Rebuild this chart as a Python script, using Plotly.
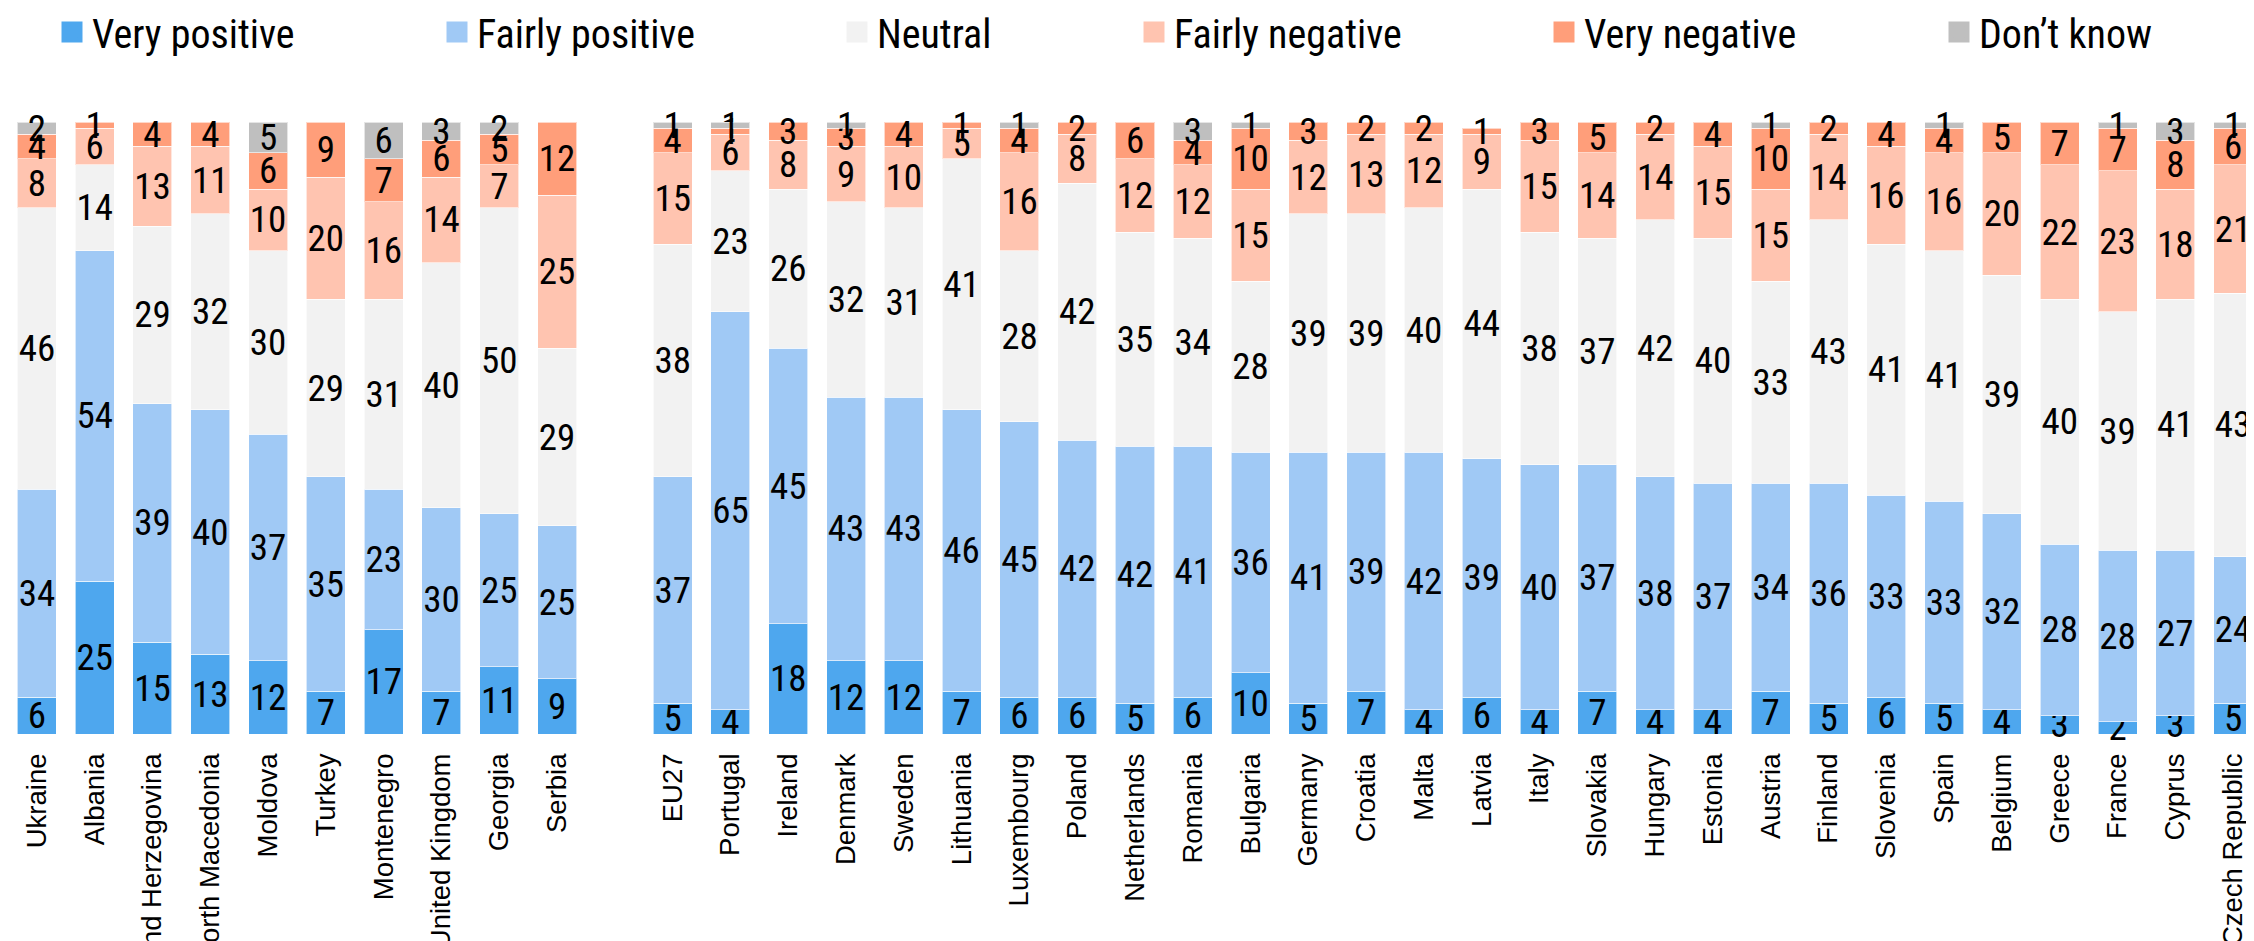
import plotly.graph_objects as go

left_countries = ["Ukraine", "Albania", "Bosnia and Herzegovina", "North Macedonia", "Moldova",
                  "Turkey", "Montenegro", "United Kingdom", "Georgia", "Serbia"]
right_countries = ["EU27", "Portugal", "Ireland", "Denmark", "Sweden", "Lithuania", "Luxembourg",
                   "Poland", "Netherlands", "Romania", "Bulgaria", "Germany", "Croatia", "Malta",
                   "Latvia", "Italy", "Slovakia", "Hungary", "Estonia", "Austria", "Finland",
                   "Slovenia", "Spain", "Belgium", "Greece", "France", "Cyprus", "Czech Republic"]

very_pos_l = [6, 25, 15, 13, 12, 7, 17, 7, 11, 9]
very_pos_r = [5, 4, 18, 12, 12, 7, 6, 6, 5, 6, 10, 5, 7, 4, 6, 4, 7, 4, 4, 7, 5, 6, 5, 4, 3, 2, 3, 5]
fairly_pos_l = [34, 54, 39, 40, 37, 35, 23, 30, 25, 25]
fairly_pos_r = [37, 65, 45, 43, 43, 46, 45, 42, 42, 41, 36, 41, 39, 42, 39, 40, 37, 38, 37, 34, 36,
                33, 33, 32, 28, 28, 27, 24]
neutral_l = [46, 14, 29, 32, 30, 29, 31, 40, 50, 29]
neutral_r = [38, 23, 26, 32, 31, 41, 28, 42, 35, 34, 28, 39, 39, 40, 44, 38, 37, 42, 40, 33, 43,
             41, 41, 39, 40, 39, 41, 43]
fairly_neg_l = [8, 6, 13, 11, 10, 20, 16, 14, 7, 25]
fairly_neg_r = [15, 6, 8, 9, 10, 5, 16, 8, 12, 12, 15, 12, 13, 12, 9, 15, 14, 14, 15, 15, 14, 16,
                16, 20, 22, 23, 18, 21]
very_neg_l = [4, 1, 4, 4, 6, 9, 7, 6, 5, 12]
very_neg_r = [4, 1, 3, 3, 4, 1, 4, 2, 6, 4, 10, 3, 2, 2, 1, 3, 5, 2, 4, 10, 2, 4, 4, 5, 7, 7, 8, 6]
dont_know_l = [2, None, None, None, 5, None, 6, 3, 2, None]
dont_know_r = [1, 1, None, 1, None, None, 1, None, None, 3, 1, None, None, None, None, None, None,
               None, None, 1, None, None, 1, None, None, 1, 3, 1]

series_names = ["Very positive", "Fairly positive", "Neutral", "Fairly negative", "Very negative",
                "Don\u2019t know"]
series_colors = ["#4EA7EE", "#A0C9F5", "#F2F2F2", "#FFC4B0", "#FF9E7A", "#BFBFBF"]

GAP = " "
categories = left_countries + [GAP] + right_countries
series_values = [
    very_pos_l + [None] + very_pos_r,
    fairly_pos_l + [None] + fairly_pos_r,
    neutral_l + [None] + neutral_r,
    fairly_neg_l + [None] + fairly_neg_r,
    very_neg_l + [None] + very_neg_r,
    dont_know_l + [None] + dont_know_r,
]

W, H = 2254, 941
TOP, BOTTOM = 114, 215
LABEL_FONT = "Roboto Condensed, Roboto Narrow, DejaVu Sans Condensed, Roboto, sans-serif"

fig = go.Figure()
for name, color, vals in zip(series_names, series_colors, series_values):
    fig.add_trace(go.Bar(
        x=categories, y=vals, name=name,
        marker=dict(color=color, line=dict(color="rgba(255,255,255,0.6)", width=1)),
        text=[("" if v is None else str(v)) for v in vals],
        textposition="inside", insidetextanchor="middle", textangle=0,
        textfont=dict(family=LABEL_FONT, size=37, color="#000000"),
        cliponaxis=False,
        showlegend=False, hoverinfo="x+y+name",
    ))

# legend entries (one legend per item so each can sit where the original places it)
legend_square_centers = [64, 449, 849, 1146, 1556, 1951]
for i, (name, color) in enumerate(zip(series_names, series_colors)):
    key = "legend" if i == 0 else f"legend{i + 1}"
    fig.add_trace(go.Scatter(
        x=[None], y=[None], mode="markers", name=name,
        marker=dict(symbol="square", size=16, color=color, line=dict(color=color, width=5)),
        legend=key, showlegend=True, hoverinfo="skip",
    ))
    fig.update_layout(**{key: dict(
        x=(legend_square_centers[i] - 20) / W, xanchor="left",
        y=1 + (TOP - 24) / (H - TOP - BOTTOM), yanchor="middle",
        orientation="h", bgcolor="rgba(0,0,0,0)",
        font=dict(family=LABEL_FONT, size=40, color="#000000"),
        itemclick=False, itemdoubleclick=False,
    )})

fig.update_layout(
    width=W, height=H,
    barmode="stack", bargap=0.325,
    margin=dict(l=0, r=0, t=TOP, b=BOTTOM, autoexpand=False),
    plot_bgcolor="white", paper_bgcolor="white",
    uniformtext=dict(minsize=37, mode="show"),
    xaxis=dict(
        type="category", categoryorder="array", categoryarray=categories,
        range=[-0.5, len(categories) - 0.5],
        tickangle=-90, automargin=False, showgrid=False, showline=False, zeroline=False,
        ticks="", ticklabelstandoff=13,
        tickfont=dict(family="Liberation Sans, Arial, sans-serif", size=27.5, color="#000000"),
    ),
    yaxis=dict(range=[0, 100], visible=False, showgrid=False, zeroline=False, fixedrange=True),
)

fig.write_html("out.html")
